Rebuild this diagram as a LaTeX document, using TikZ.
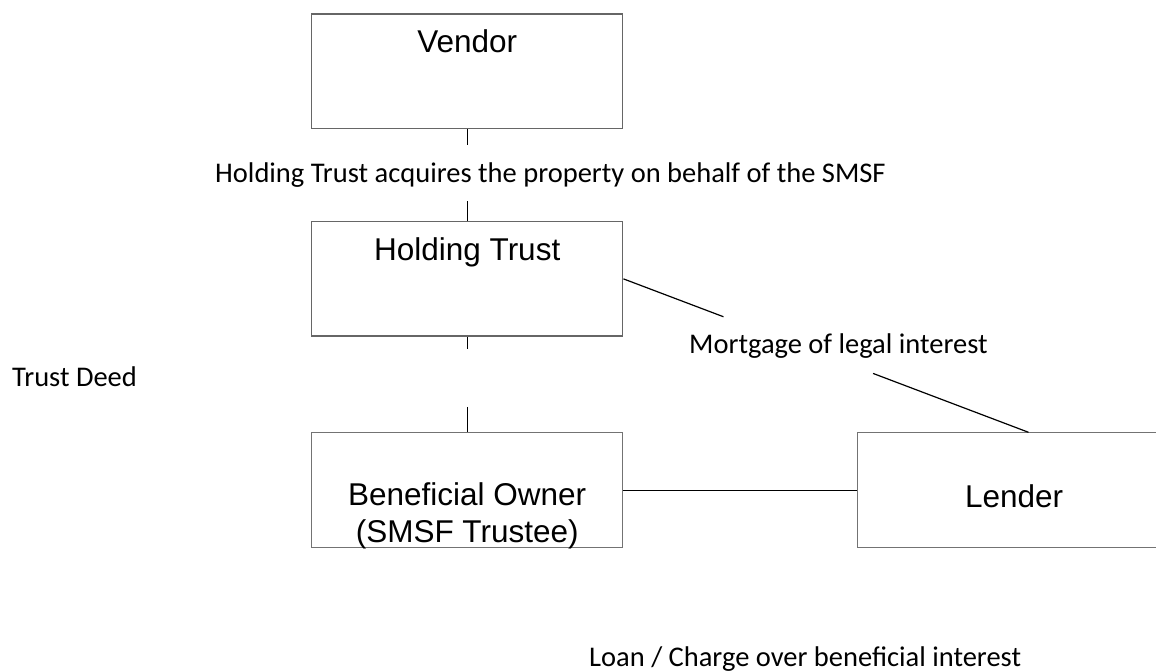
\documentclass[tikz,border=0pt]{standalone}
\usepackage{fontspec}
\setmainfont{Carlito}
\newfontfamily\arialfont{Liberation Sans}
\usetikzlibrary{positioning}
\newcommand{\boxfont}{\arialfont\fontsize{31.5}{36.5}\selectfont}
\newcommand{\lblfont}{\fontsize{28.5}{30}\selectfont}

\begin{document}
\begin{tikzpicture}[x=1pt,y=-1pt,%
  party/.style={draw=black!60,line width=1.4pt,inner sep=0pt,minimum width=311pt,%
    text height=38.5pt,text depth=76pt,font=\boxfont},%
  flat/.style={party,draw=black!55,line width=0.9pt},%
  link/.style={black,line width=1.2pt},%
  lbl/.style={anchor=base west,inner sep=0pt,font=\lblfont}%
  ]
  \useasboundingbox (0,0) rectangle (1156,671);
  \clip (0,0) rectangle (1156,671);
%
  \node (v) [party, anchor=north west] at (311,13.5) {Vendor};
  \node (h) [party, below=91.5pt of v] {Holding Trust};
  \node (o) [flat, below=95.5pt of h, align=center, text height=109.5pt, text depth=5pt]
    {Beneficial Owner\\(SMSF Trustee)};
  \node (l) [flat, right=234pt of o, minimum width=313pt, text height=74.5pt, text depth=40pt] {Lender};
%
  \node (buy)  [lbl] at (215,183) {Holding Trust acquires the property on behalf of the SMSF};
  \node (deed) [lbl] at (12,386)  {Trust Deed};
  \node (mort) [lbl] at (689,353) {Mortgage of legal interest};
  \node (loan) [lbl] at (589,666) {Loan / Charge over beneficial interest};
%
  \draw[link, dash pattern=on 16pt off 56pt on 30pt] (v) -- (h);
  \draw[link, dash pattern=on 12pt off 58pt on 30pt] (h) -- (o);
  \draw[link, dash pattern=on 107pt off 160pt on 180pt] (h.east) -- (l.76);
  \draw[link, line width=0.9pt] (o) -- (l);
%
\end{tikzpicture}
\end{document}
